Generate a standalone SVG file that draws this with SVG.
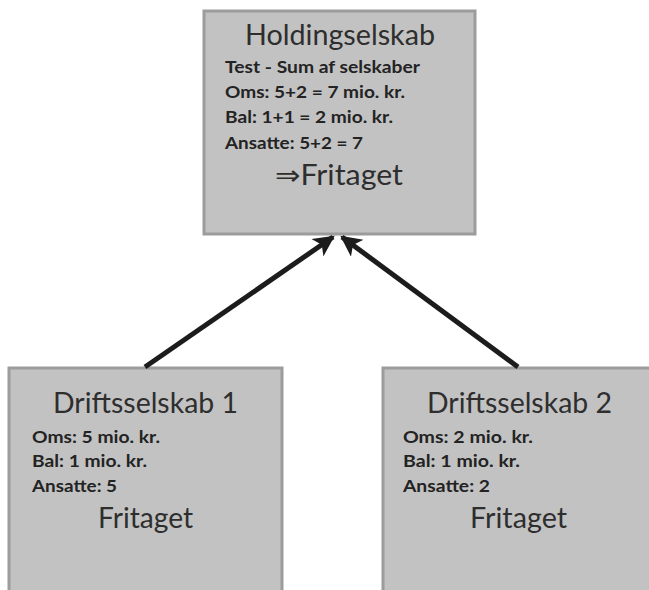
<svg xmlns="http://www.w3.org/2000/svg" width="649" height="590" viewBox="0 0 649 590">
<style>
.box{fill:#c2c2c2;stroke:#9c9c9c;stroke-width:3}
.title{font-family:Lato,"Open Sans","DejaVu Sans",sans-serif;font-size:28px;fill:#2e2e2e}
.line{font-family:Lato,"Open Sans","DejaVu Sans",sans-serif;font-size:17.5px;font-weight:bold;fill:#232323}
.conn{stroke:#1c1c1c;stroke-width:5;fill:none;marker-end:url(#ah)}
</style>
<defs>
<marker id="ah" viewBox="0 0 10 10" refX="9" refY="5" markerWidth="4.6" markerHeight="4.2" orient="auto" markerUnits="strokeWidth">
<path d="M0,0 L10,5 L0,10 L2.5,5 z" fill="#1c1c1c"/>
</marker>
</defs>
<rect width="649" height="590" fill="#ffffff"/>
<g id="holdingselskab">
<rect class="box" x="204" y="11" width="271" height="223"/>
<text class="title" x="245" y="45" textLength="190" lengthAdjust="spacingAndGlyphs">Holdingselskab</text>
<text class="line" x="225" y="73" textLength="195" lengthAdjust="spacingAndGlyphs">Test - Sum af selskaber</text>
<text class="line" x="225" y="98" textLength="180" lengthAdjust="spacingAndGlyphs">Oms: 5+2 = 7 mio. kr.</text>
<text class="line" x="225" y="123" textLength="168" lengthAdjust="spacingAndGlyphs">Bal: 1+1 = 2 mio. kr.</text>
<text class="line" x="225" y="149" textLength="138" lengthAdjust="spacingAndGlyphs">Ansatte: 5+2 = 7</text>
<text class="title" x="275" y="185" textLength="128" lengthAdjust="spacingAndGlyphs">⇒Fritaget</text>
</g>
<g id="driftsselskab1">
<rect class="box" x="9" y="368" width="273" height="240"/>
<text class="title" x="53" y="413" textLength="185" lengthAdjust="spacingAndGlyphs">Driftsselskab 1</text>
<text class="line" x="32" y="443" textLength="128" lengthAdjust="spacingAndGlyphs">Oms: 5 mio. kr.</text>
<text class="line" x="32" y="467" textLength="115" lengthAdjust="spacingAndGlyphs">Bal: 1 mio. kr.</text>
<text class="line" x="32" y="492" textLength="85" lengthAdjust="spacingAndGlyphs">Ansatte: 5</text>
<text class="title" x="98" y="528" textLength="95" lengthAdjust="spacingAndGlyphs">Fritaget</text>
</g>
<g id="driftsselskab2">
<rect class="box" x="383" y="368" width="290" height="240"/>
<text class="title" x="427" y="413" textLength="185" lengthAdjust="spacingAndGlyphs">Driftsselskab 2</text>
<text class="line" x="403" y="443" textLength="130" lengthAdjust="spacingAndGlyphs">Oms: 2 mio. kr.</text>
<text class="line" x="403" y="467" textLength="117" lengthAdjust="spacingAndGlyphs">Bal: 1 mio. kr.</text>
<text class="line" x="403" y="492" textLength="87" lengthAdjust="spacingAndGlyphs">Ansatte: 2</text>
<text class="title" x="470" y="528" textLength="97" lengthAdjust="spacingAndGlyphs">Fritaget</text>
</g>
<g id="connectors">
<line class="conn" x1="145" y1="367" x2="333" y2="237"/>
<line class="conn" x1="518" y1="367" x2="342" y2="237"/>
</g>
</svg>
